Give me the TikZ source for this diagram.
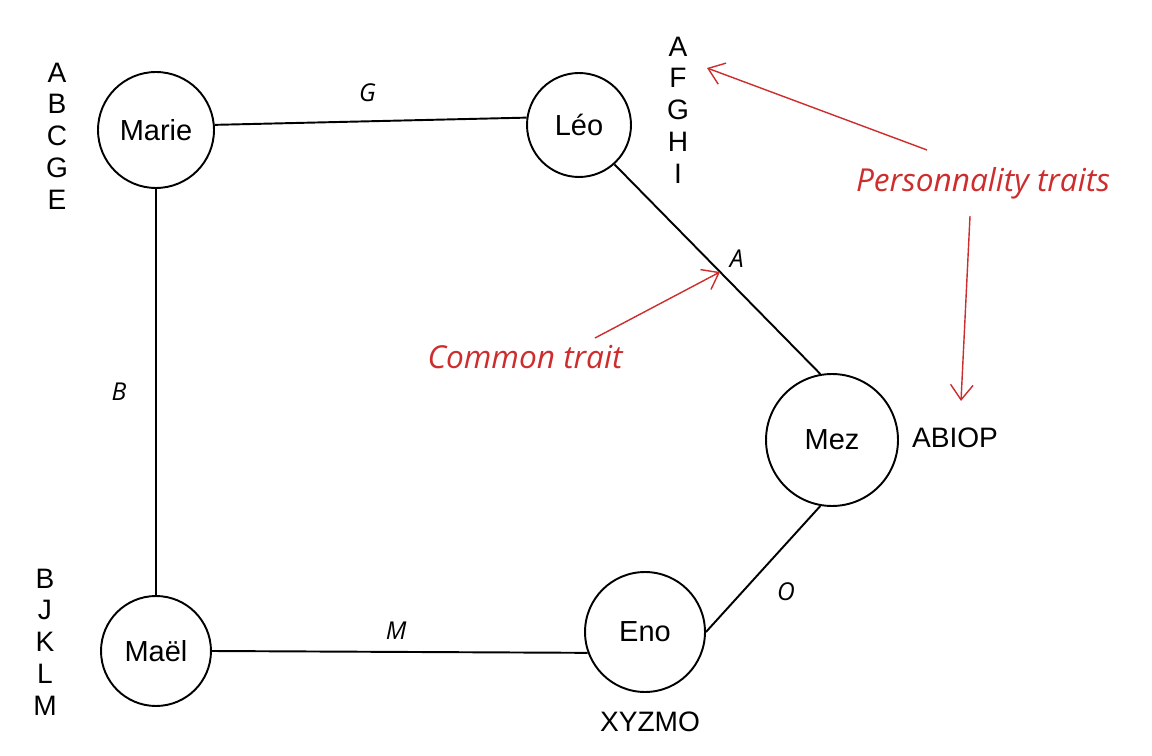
\documentclass[tikz,border=0pt]{standalone}
\usepackage{fontspec}
\setmainfont{Liberation Sans}
\newfontfamily\handfont{Open Sans}
\usetikzlibrary{arrows.meta}
\definecolor{notered}{RGB}{205,45,45}

\begin{document}
\begin{tikzpicture}[x=0.02cm, y=-0.02cm,
    person/.style ={circle, draw, line width=1.1pt, inner sep=0pt, font=\fontsize{16.5}{18}\selectfont},
    traits/.style ={align=center, font=\fontsize{16}{18.1}\selectfont},
    link/.style ={font=\handfont\itshape\fontsize{14}{16}\selectfont},
    note/.style ={text=notered, font=\handfont\itshape\fontsize{18}{20}\selectfont},
    pointer/.style ={draw=notered, thick, -{Straight Barb[length=3mm, width=4.5mm]}}]
   \useasboundingbox (0,0) rectangle (1152,756);
   % people
   \node[person, minimum size=2.32cm] (Marie) at (156,130)  {Marie};
   \node[person, minimum size=2.08cm] (Leo) at (579,125)  {Léo};
   \node[person, minimum size=2.64cm] (Mez) at (832,440)  {Mez};
   \node[person, minimum size=2.4cm] (Eno) at (645,632)  {Eno};
   \node[person, minimum size=2.2cm] (Mael) at (156,651)  {Maël};
   % traits
   \node[traits] (MarieTraits) at (57,136)  {A\\B\\C\\G\\E};
   \node[traits] (LeoTraits) at (678,110)  {A\\F\\G\\H\\I};
   \node[traits] (MaelTraits) at (45,642)  {B\\J\\K\\L\\M};
   \node[traits] (MezTraits) at (955,438)  {ABIOP};
   \node[traits] (EnoTraits) at (650,722)  {XYZMO};
   % links
   \draw[line width=1.1pt] (Marie.5) to  node[link, pos=0.49, above=7pt] {G} (Leo.172);
   \draw[line width=1.1pt] (Leo.-48) to  node[link, pos=0.45, right=9pt] {A} (Mez.100);
   \draw[line width=1.1pt] (Marie) to  node[link, pos=0.5, left=13pt] {B} (Mael);
   \draw[line width=1.1pt] (Mael.east) to  node[link, pos=0.49, above=3pt] {M} (Eno.200);
   \draw[line width=1.1pt] (Mez.260) to  node[link, pos=0.5, below right=4pt] {O} (Eno.east);
   % notes
   \node[note] (persNote) at (983,183)  {Personnality traits};
   \node[note] (commonNote) at (525,357)  {Common trait};
   \coordinate (persTail) at (927,150);
   \coordinate (persTip) at (707,68);
   \coordinate (downTail) at (970,216);
   \coordinate (downTip) at (961,401);
   \coordinate (commonTail) at (595,338);
   \coordinate (commonTip) at (720,272);
   \draw[pointer] (persTail) to  (persTip);
   \draw[pointer] (downTail) to  (downTip);
   \draw[pointer] (commonTail) to  (commonTip);
 \end{tikzpicture}
\end{document}
